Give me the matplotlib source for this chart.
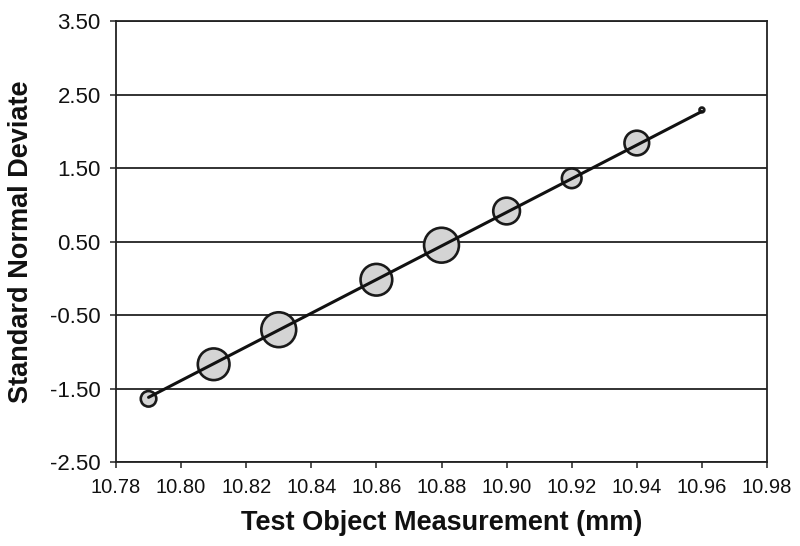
import matplotlib
matplotlib.use("Agg")
import matplotlib.pyplot as plt
from matplotlib.ticker import FormatStrFormatter

plt.rcParams['font.family'] = ['Liberation Sans', 'DejaVu Sans']

# Measured values and their standard normal deviates
measurement = [10.79, 10.81, 10.83, 10.86, 10.88, 10.90, 10.92, 10.94, 10.96]
deviate = [-1.64, -1.17, -0.70, -0.02, 0.45, 0.915, 1.36, 1.84, 2.29]
# relative bubble area for each point
bubble_area = [125, 520, 630, 520, 630, 370, 200, 315, 12]

# fitted line end points
fit_x = [10.79, 10.96]
fit_y = [-1.62, 2.27]

x_ticks = [10.78, 10.80, 10.82, 10.84, 10.86, 10.88, 10.90, 10.92, 10.94, 10.96, 10.98]
y_ticks = [-2.5, -1.5, -0.5, 0.5, 1.5, 2.5, 3.5]

fig = plt.figure(figsize=(8, 5.46), dpi=100)
ax = fig.add_axes([0.145, 0.1538, 0.81375, 0.8077])

# horizontal grid lines
for y in y_ticks:
    ax.axhline(y, color='#222222', lw=1.3, zorder=1)

ax.scatter(measurement, deviate, s=bubble_area, facecolor='#d4d4d4',
           edgecolor='#1a1a1a', linewidth=1.9, zorder=3)
ax.plot(fit_x, fit_y, color='#111111', lw=2.2, zorder=4, solid_capstyle='round')

ax.set_xlim(10.78, 10.98)
ax.set_ylim(-2.5, 3.5)
ax.set_xticks(x_ticks)
ax.set_yticks(y_ticks)
ax.xaxis.set_major_formatter(FormatStrFormatter('%.2f'))
ax.yaxis.set_major_formatter(FormatStrFormatter('%.2f'))
ax.tick_params(axis='both', direction='out', length=4.5, width=1.1,
               color='#222222', labelcolor='#111111')
ax.tick_params(axis='x', pad=7, labelsize=14.5)
ax.tick_params(axis='y', pad=6.5, labelsize=16)

for side in ax.spines.values():
    side.set_linewidth(1.3)
    side.set_color('#222222')

ax.set_xlabel('Test Object Measurement (mm)', fontsize=19.5, fontweight='bold',
              color='#111111', va='center')
ax.set_ylabel('Standard Normal Deviate', fontsize=19.5, fontweight='bold',
              color='#111111', va='center')
ax.xaxis.set_label_coords(0.5, -0.138)
ax.yaxis.set_label_coords(-0.146, 0.5)

fig.savefig('out.png', dpi=100)
